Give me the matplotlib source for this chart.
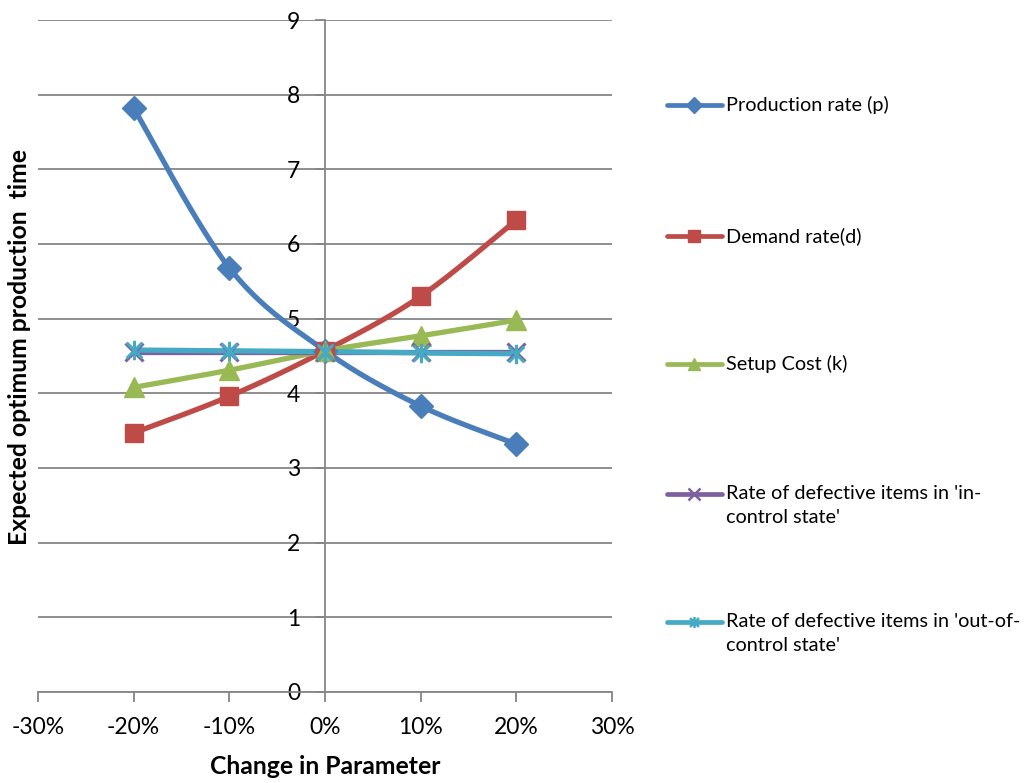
import numpy as np
import matplotlib
matplotlib.use("Agg")
import matplotlib.pyplot as plt
from matplotlib.path import Path
from matplotlib.lines import Line2D

# ---- data ----
changes = [-0.20, -0.10, 0.00, 0.10, 0.20]
production_rate = [7.82, 5.68, 4.57, 3.83, 3.32]
demand_rate = [3.47, 3.96, 4.57, 5.30, 6.32]
setup_cost = [4.08, 4.31, 4.57, 4.77, 4.98]
defect_in_control = [4.56, 4.56, 4.56, 4.56, 4.56]
defect_out_control = [4.58, 4.57, 4.56, 4.54, 4.53]

series_names = [
    "Production rate (p)",
    "Demand rate(d)",
    "Setup Cost (k)",
    "Rate of defective items in 'in-\ncontrol state'",
    "Rate of defective items in 'out-of-\ncontrol state'",
]
x_ticks = [-0.30, -0.20, -0.10, 0.00, 0.10, 0.20, 0.30]
x_tick_labels = ["-30%", "-20%", "-10%", "0%", "10%", "20%", "30%"]
y_ticks = list(range(0, 10))

# ---- styling ----
FONT = "Lato"
plt.rcParams["font.family"] = [FONT, "DejaVu Sans"]
GRID = "#868686"

# asterisk marker: an "x" with a vertical bar through it
star_path = Path(
    [(-1, -1), (1, 1), (-1, 1), (1, -1), (0, -1.25), (0, 1.25)],
    [Path.MOVETO, Path.LINETO, Path.MOVETO, Path.LINETO, Path.MOVETO, Path.LINETO],
)

styles = [
    dict(color="#4A7EBB", marker="D", ms=12),
    dict(color="#BE4B48", marker="s", ms=13),
    dict(color="#98B954", marker="^", ms=14),
    dict(color="#7D60A0", marker="x", ms=13),
    dict(color="#46AAC5", marker=star_path, ms=14),
]


def smooth(xs, ys, n=40):
    """Catmull-Rom style smoothing through the points (Bezier form)."""
    P = np.column_stack([xs, ys]).astype(float)
    P_ext = np.vstack([P[0], P, P[-1]])
    out = []
    t = np.linspace(0, 1, n)
    for i in range(len(P) - 1):
        p0, p1, p2, p3 = P_ext[i], P_ext[i + 1], P_ext[i + 2], P_ext[i + 3]
        c1 = p1 + (p2 - p0) / 6.0
        c2 = p2 - (p3 - p1) / 6.0
        seg = ((1 - t) ** 3)[:, None] * p1 + (3 * (1 - t) ** 2 * t)[:, None] * c1 \
            + (3 * (1 - t) * t ** 2)[:, None] * c2 + (t ** 3)[:, None] * p2
        out.append(seg if i == 0 else seg[1:])
    S = np.vstack(out)
    return S[:, 0], S[:, 1]


def is_stroked(marker):
    return marker == "x" or marker is star_path


fig = plt.figure(figsize=(10.28, 7.83), dpi=100)
ax = fig.add_axes([38 / 1028, 1 - 692 / 783, (612 - 38) / 1028, (692 - 20) / 783])

ax.set_xlim(-0.30, 0.30)
ax.set_ylim(0, 9)

all_series = [production_rate, demand_rate, setup_cost, defect_in_control, defect_out_control]
for vals, st in zip(all_series, styles):
    sx, sy = smooth(changes, vals)
    ax.plot(sx, sy, color=st["color"], lw=3.8, solid_capstyle="round", zorder=3)
    mew = 2.2 if is_stroked(st["marker"]) else 1
    ax.plot(changes, vals, ls="none", marker=st["marker"], ms=st["ms"],
            color=st["color"], mec=st["color"], mew=mew, zorder=4)

# grid and spines
ax.set_yticks(y_ticks)
ax.yaxis.grid(True, color=GRID, lw=1.3)
ax.set_axisbelow(True)
for s in ("top", "right"):
    ax.spines[s].set_visible(False)
ax.spines["left"].set_position(("data", 0))
ax.spines["left"].set_color(GRID)
ax.spines["left"].set_linewidth(1.3)
ax.spines["bottom"].set_color(GRID)
ax.spines["bottom"].set_linewidth(1.3)

ax.set_xticks(x_ticks)
ax.set_xticklabels(x_tick_labels)
ax.tick_params(axis="x", direction="out", length=7, width=1.3, color=GRID,
               labelsize=16.5, pad=11)
ax.tick_params(axis="y", direction="out", length=7, width=1.3, color=GRID,
               labelsize=16.5, pad=11)

fig.text(325 / 1028, 1 - 767 / 783, "Change in Parameter", ha="center", va="center",
         fontsize=17.8, fontweight="bold")
fig.text(20 / 1028, 1 - 347 / 783, "Expected optimum production  time", ha="center",
         va="center", rotation=90, fontsize=17.8, fontweight="bold")

# legend drawn at the right-hand side
legend_y = [105, 236, 364, 494, 622]
for name, st, yy in zip(series_names, styles, legend_y):
    yf = 1 - yy / 783
    fig.add_artist(Line2D([667 / 1028, 722 / 1028], [yf, yf], transform=fig.transFigure,
                          color=st["color"], lw=3.4, solid_capstyle="round"))
    mew = 1.8 if is_stroked(st["marker"]) else 1
    fig.add_artist(Line2D([694 / 1028], [yf], transform=fig.transFigure, ls="none",
                          marker=st["marker"], ms=8, color=st["color"], mec=st["color"],
                          mew=mew))
    fig.text(726 / 1028, yf + 9 / 783, name, ha="left", va="top", fontsize=14.3,
             linespacing=1.5, transform=fig.transFigure)

fig.savefig("out.png", dpi=100)
